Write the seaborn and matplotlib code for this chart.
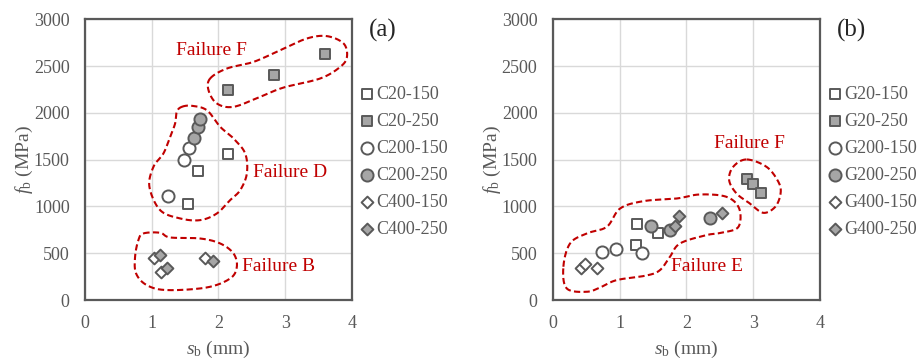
import numpy as np
import pandas as pd
import matplotlib
matplotlib.use('Agg')
import matplotlib.pyplot as plt
import seaborn as sns

# ---------------- data ----------------
# panel (a): carbon series
c_labels = ['C20-150', 'C20-250', 'C200-150', 'C200-250', 'C400-150', 'C400-250']
c_s = [[1.55, 1.70, 2.14],
       [2.14, 2.83, 3.59],
       [1.24, 1.49, 1.56],
       [1.64, 1.70, 1.73],
       [1.03, 1.14, 1.80],
       [1.12, 1.23, 1.92]]
c_f = [[1028, 1381, 1559],
       [2245, 2402, 2626],
       [1114, 1498, 1623],
       [1726, 1847, 1932],
       [448, 296, 445],
       [480, 345, 416]]

# panel (b): glass series
g_labels = ['G20-150', 'G20-250', 'G200-150', 'G200-250', 'G400-150', 'G400-250']
g_s = [[1.26, 1.25, 1.57],
       [2.90, 3.00, 3.12],
       [0.74, 0.94, 1.33],
       [1.47, 1.76, 2.35],
       [0.43, 0.48, 0.66],
       [1.83, 1.89, 2.54]]
g_f = [[811, 587, 712],
       [1292, 1238, 1149],
       [509, 545, 505],
       [794, 747, 875],
       [340, 385, 340],
       [790, 897, 932]]

# failure zones (outline guide points, data units) and labels
zones_a = {
    'Failure F': ([1.875, 2.125, 2.525, 2.925, 3.325, 3.625, 3.875, 3.925, 3.825, 3.525, 2.975, 2.625, 2.225, 1.975, 1.85],
                  [2367, 2473, 2544, 2669, 2794, 2819, 2740, 2598, 2491, 2367, 2270, 2171, 2064, 2100, 2242]),
    'Failure D': ([1.45, 1.60, 1.825, 2.025, 2.225, 2.40, 2.425, 2.325, 2.175, 1.975, 1.725, 1.425, 1.125, 0.965, 1.025, 1.175, 1.275, 1.35, 1.375],
                  [2064, 2075, 2028, 1851, 1726, 1566, 1352, 1174, 1068, 925, 854, 872, 961, 1210, 1423, 1566, 1744, 1886, 2011]),
    'Failure B': ([0.875, 1.125, 1.275, 1.725, 2.025, 2.225, 2.275, 2.175, 1.825, 1.225, 0.925, 0.765, 0.75, 0.80],
                  [712, 719, 669, 658, 605, 498, 356, 231, 135, 107, 160, 285, 463, 641]),
}
labels_a = {'Failure F': (1.89, 2669), 'Failure D': (3.07, 1359), 'Failure B': (2.90, 356)}

zones_b = {
    'Failure F': ([2.90, 3.20, 3.377, 3.41, 3.33, 3.15, 2.95, 2.75, 2.64, 2.70],
                  [1502, 1423, 1263, 1139, 996, 932, 1032, 1139, 1281, 1423]),
    'Failure E': ([0.16, 0.26, 0.51, 0.81, 1.01, 1.36, 1.855, 2.20, 2.60, 2.79, 2.78, 2.55, 2.30, 1.905, 1.755, 1.605, 1.405, 0.96, 0.71, 0.51, 0.21],
                  [356, 605, 712, 783, 979, 1057, 1085, 1128, 1103, 979, 783, 722, 694, 605, 463, 320, 263, 214, 135, 89, 125]),
}
labels_b = {'Failure F': (2.95, 1673), 'Failure E': (2.31, 356)}

markers = ['s', 's', 'o', 'o', 'D', 'D']
faces = ['white', '#A6A6A6', 'white', '#A6A6A6', 'white', '#A6A6A6']
sizes = [56, 56, 76, 76, 36, 36]

# ---------------- style ----------------
sns.set_style('white')
plt.rcParams['font.family'] = ['Liberation Serif', 'DejaVu Serif']
plt.rcParams['mathtext.fontset'] = 'custom'
plt.rcParams['mathtext.rm'] = 'Liberation Serif'
plt.rcParams['mathtext.it'] = 'Liberation Serif:italic'

GREY = '#595959'
RED = '#C00000'


def smooth_closed(xs, ys, n=30):
    # closed Catmull-Rom spline through the guide points
    P = np.column_stack([xs, ys]).astype(float)
    N = len(P)
    t = np.linspace(0, 1, n, endpoint=False)[:, None]
    out = []
    for i in range(N):
        p0, p1, p2, p3 = P[i - 1], P[i], P[(i + 1) % N], P[(i + 2) % N]
        seg = 0.5 * (2 * p1 + (-p0 + p2) * t + (2 * p0 - 5 * p1 + 4 * p2 - p3) * t ** 2
                     + (-p0 + 3 * p1 - 3 * p2 + p3) * t ** 3)
        out.append(seg)
    out = np.vstack(out + [P[:1]])
    return out[:, 0], out[:, 1]


def draw_panel(ax, labels, s_vals, f_vals, zones, zone_labels, tag):
    for lab, xs, ys, m, fc, sz in zip(labels, s_vals, f_vals, markers, faces, sizes):
        df = pd.DataFrame({'s': xs, 'f': ys})
        sns.scatterplot(data=df, x='s', y='f', ax=ax, marker=m, s=sz, color=fc,
                        edgecolor=GREY, linewidth=1.4, label=lab, zorder=3)
    for name, (zx, zy) in zones.items():
        sx, sy = smooth_closed(zx, zy)
        ax.plot(sx, sy, color=RED, lw=1.5, linestyle=(0, (3, 1.6)), zorder=4)
    for name, (tx, ty) in zone_labels.items():
        ax.text(tx, ty, name, color=RED, fontsize=14, ha='center', va='center', zorder=5)

    ax.set_xlim(0, 4)
    ax.set_ylim(0, 3000)
    ax.set_xticks([0, 1, 2, 3, 4])
    ax.set_yticks(np.arange(0, 3001, 500))
    ax.grid(True, color='#D9D9D9', lw=1.0)
    ax.set_axisbelow(True)
    for sp in ax.spines.values():
        sp.set_color(GREY)
        sp.set_linewidth(1.6)
    ax.tick_params(length=0, labelsize=13, labelcolor=GREY, pad=11)
    ax.set_xlabel(r'$s$$_{\mathrm{b}}$ (mm)', fontsize=14, color=GREY, labelpad=5)
    ax.set_ylabel(r'$f$$_{\mathrm{b}}$ (MPa)', fontsize=14, color=GREY, labelpad=-1)
    leg = ax.legend(loc='upper left', bbox_to_anchor=(1.008, 0.775), frameon=False,
                    fontsize=13, handletextpad=0.05, handlelength=1.0,
                    labelspacing=0.55, borderaxespad=0.0, borderpad=0.2)
    for t in leg.get_texts():
        t.set_color(GREY)
    ax.text(1.116, 0.96, tag, transform=ax.transAxes, fontsize=18, ha='center', va='center')


fig = plt.figure(figsize=(9.19, 3.62), dpi=100)
ax1 = fig.add_axes([0.0925, 0.171, 0.2905, 0.776])
ax2 = fig.add_axes([0.6014, 0.171, 0.2909, 0.776])

draw_panel(ax1, c_labels, c_s, c_f, zones_a, labels_a, '(a)')
draw_panel(ax2, g_labels, g_s, g_f, zones_b, labels_b, '(b)')

plt.savefig('out.png', dpi=100)
plt.close()
